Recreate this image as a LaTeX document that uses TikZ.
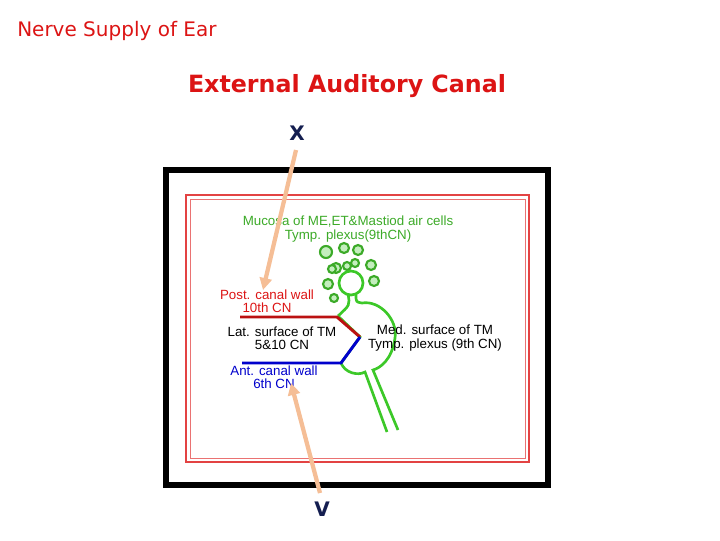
\documentclass[tikz,border=0pt]{standalone}
\usepackage{fontspec}
\setmainfont{DejaVu Sans}
\newfontfamily\arial{Liberation Sans}
\usetikzlibrary{arrows.meta}
\definecolor{tred}{RGB}{220,20,20}
\definecolor{navy}{RGB}{20,30,80}
\definecolor{peach}{RGB}{245,190,150}
\definecolor{gr}{RGB}{60,200,40}
\definecolor{dgr}{RGB}{60,170,40}
\begin{document}
\begin{tikzpicture}[x=0.75pt,y=-0.75pt,
  lbl/.style={font=\arial\fontsize{10}{10}\selectfont,inner sep=0pt,align=center},
  cell/.style={draw=dgr,line width=1.6pt,fill=gr!30},
  arr/.style={draw=peach,line width=3.2pt,-{Triangle[length=9pt,width=9pt]}}]
\useasboundingbox (0,0) rectangle (720,540);
\node[text=tred,font=\fontsize{15}{17}\selectfont,anchor=west,inner sep=0pt] (t) at (17,31) {Nerve Supply of Ear};
\node[text=tred,font=\bfseries\fontsize{17.8}{20}\selectfont] (h) at (347,86) {External Auditory Canal};
\draw[line width=4pt] (166,170) rectangle (548,485);
\draw[tred!80,line width=1.2pt] (186,195) rectangle (529,462);
\draw[tred!60,line width=0.6pt] (190,199) rectangle (525,458);
% cells
\foreach \p/\r in {{(326,252)/6},{(344,248)/5},{(358,250)/5},{(336,268)/5},{(347,266)/4},{(355,263)/4},{(371,265)/5},{(374,281)/5},{(328,284)/5},{(334,298)/4},{(332,269)/4}}
  \draw[cell] \p circle (\r);
\draw[gr,line width=2pt] (351,283) circle (12);
% middle ear outline
\draw[gr,line width=2pt] (348,294) .. controls (350,305) .. (338,316)
  (338,316) -- (360,337) -- (341,363) .. controls (345,373) and (358,376) .. (365,372)
  -- (387,432);
\draw[gr,line width=2pt] (356,295) .. controls (356,302) .. (362,303) .. controls (380,300) and (398,320) .. (395,338)
  .. controls (392,360) and (380,368) .. (373,370) -- (398,430);
\draw[tred!85!black,line width=2.2pt] (240,317) -- (337,317) -- (360,337);
\draw[blue!80!black,line width=2.2pt] (242,363) -- (341,363) -- (360,337);
\node[lbl,text=dgr] (m) at (348,229) {Mucosa of ME,ET\&Mastiod air cells\\Tymp. plexus(9thCN)};
\node[lbl,text=tred] (p) at (267,301) {Post. canal wall\\10th CN};
\node[lbl] (l) at (282,338) {Lat. surface of TM\\5\&10 CN};
\node[lbl] (md) at (435,338) {Med. surface of TM\\Tymp. plexus (9th CN)};
\node[lbl,text=blue!80!black] (a) at (274,377) {Ant. canal wall\\6th CN};
\node[text=navy,font=\bfseries\fontsize{15}{17}\selectfont] (x) at (297,133) {X};
\node[text=navy,font=\bfseries\fontsize{15}{17}\selectfont] (v) at (322,509) {V};
\coordinate (xs) at (296,150); \coordinate (xe) at (263,290);
\coordinate (vs) at (320,493); \coordinate (ve) at (291,383);
\draw[arr] (xs) -- (xe);
\draw[arr] (vs) -- (ve);
\end{tikzpicture}
\end{document}
